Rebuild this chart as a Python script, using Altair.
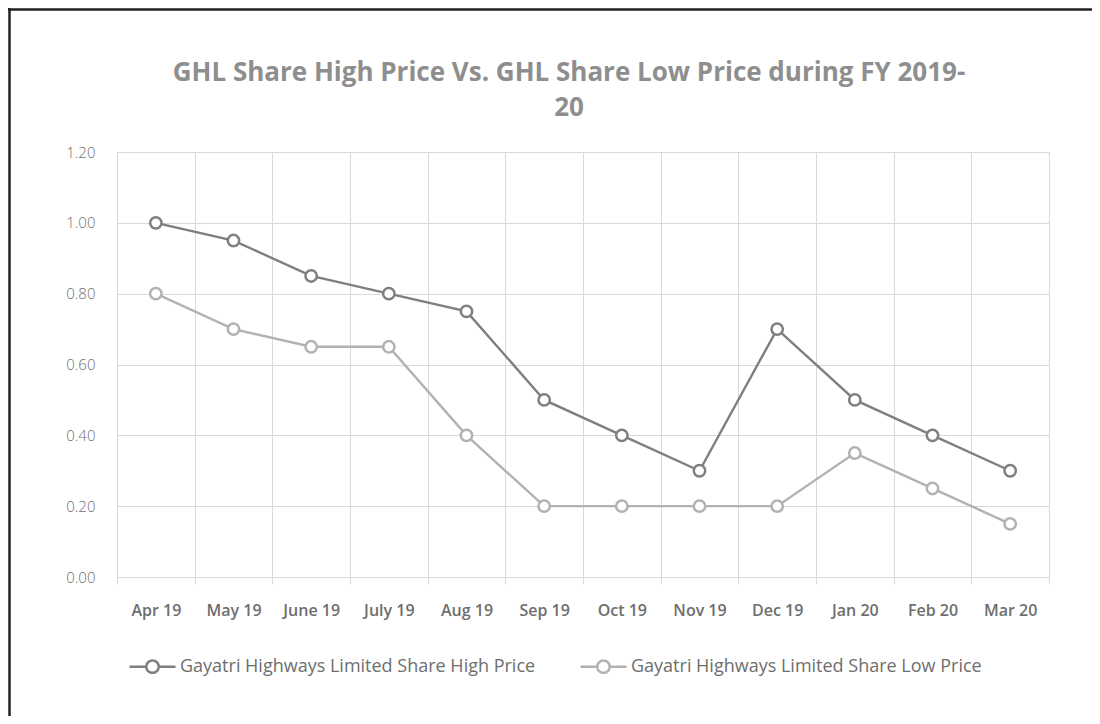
import altair as alt
import pandas as pd

months = ["Apr 19", "May 19", "June 19", "July 19", "Aug 19", "Sep 19",
          "Oct 19", "Nov 19", "Dec 19", "Jan 20", "Feb 20", "Mar 20"]
high = [1.00, 0.95, 0.85, 0.80, 0.75, 0.50, 0.40, 0.30, 0.70, 0.50, 0.40, 0.30]
low = [0.80, 0.70, 0.65, 0.65, 0.40, 0.20, 0.20, 0.20, 0.20, 0.35, 0.25, 0.15]
series = ["Gayatri Highways Limited Share High Price",
          "Gayatri Highways Limited Share Low Price"]
colors = ["#7f7f7f", "#b2b2b2"]
title_lines = ["GHL Share High Price Vs. GHL Share Low Price during FY 2019-", "20"]

rows = []
for m, h, l in zip(months, high, low):
    rows.append({"month": m, "series": series[0], "value": h})
    rows.append({"month": m, "series": series[1], "value": l})
df = pd.DataFrame(rows)

FONT = "Open Sans"
legend_path = ("M-1,0L-0.27,0M0.27,0L1,0"
               "M0.27,0A0.27,0.27,0,1,1,-0.27,0A0.27,0.27,0,1,1,0.27,0Z")

x_enc = alt.X("month:N", sort=months, bandPosition=0.5,
              scale=alt.Scale(type="band", paddingInner=0, paddingOuter=0),
              axis=alt.Axis(title=None, labelAngle=0, tickBand="extent",
                            grid=True, gridColor="#d9d9d9", gridWidth=1,
                            domainColor="#d9d9d9", tickColor="#d9d9d9",
                            tickSize=7, labelPadding=18,
                            labelFont=FONT, labelFontSize=16,
                            labelColor="#6e6e6e", labelFontWeight=600))
y_enc = alt.Y("value:Q",
              scale=alt.Scale(domain=[0, 1.2], nice=False, zero=True),
              axis=alt.Axis(title=None, values=[0, 0.2, 0.4, 0.6, 0.8, 1.0, 1.2],
                            format=".2f", domain=False, ticks=False,
                            grid=True, gridColor="#d9d9d9", gridWidth=1,
                            labelPadding=22, labelFont=FONT, labelFontSize=15,
                            labelFontWeight=300, labelColor="#6e6e6e"))
color_enc = alt.Color("series:N",
                      scale=alt.Scale(domain=series, range=colors),
                      legend=alt.Legend(title=None, orient="none",
                                        legendX=11, legendY=490,
                                        direction="horizontal", columns=2,
                                        columnPadding=39,
                                        symbolType=legend_path, symbolSize=2116,
                                        symbolStrokeWidth=2.5,
                                        symbolFillColor="white",
                                        labelOffset=3, labelLimit=600,
                                        labelFont=FONT, labelFontSize=18,
                                        labelColor="#6e6e6e"))

base = alt.Chart(df)
lines = base.mark_line(strokeWidth=2.4).encode(x=x_enc, y=y_enc, color=color_enc)
points = base.mark_point(filled=False, fill="white", size=130, strokeWidth=2.5,
                         opacity=1).encode(x=x_enc, y=y_enc, color=color_enc)

single = alt.Data(values=[{"a": 1}])
top_border = alt.Chart(single).mark_rule(color="#222222", strokeWidth=2.5).encode(
    x=alt.value(-110), x2=alt.value(1000), y=alt.value(-142.5))
left_border = alt.Chart(single).mark_rule(color="#222222", strokeWidth=2.5).encode(
    x=alt.value(-107.5), y=alt.value(-144), y2=alt.value(600))
title_text = alt.Chart(single).mark_text(
    font=FONT, fontSize=26, fontWeight="bold", color="#8e8e8e",
    align="center", baseline="alphabetic", lineHeight=35,
).encode(x=alt.value(452), y=alt.value(-71), text=alt.value(title_lines))

chart = alt.layer(top_border, left_border, title_text, lines, points).properties(
    width=932, height=425,
    autosize=alt.AutoSizeParams(type="none"),
    padding={"left": 109, "top": 144, "right": 43, "bottom": 139},
).configure_view(stroke="#d9d9d9", strokeWidth=1).configure(background="white")

chart.save("out.html", embed_options={"renderer": "svg", "actions": False})
